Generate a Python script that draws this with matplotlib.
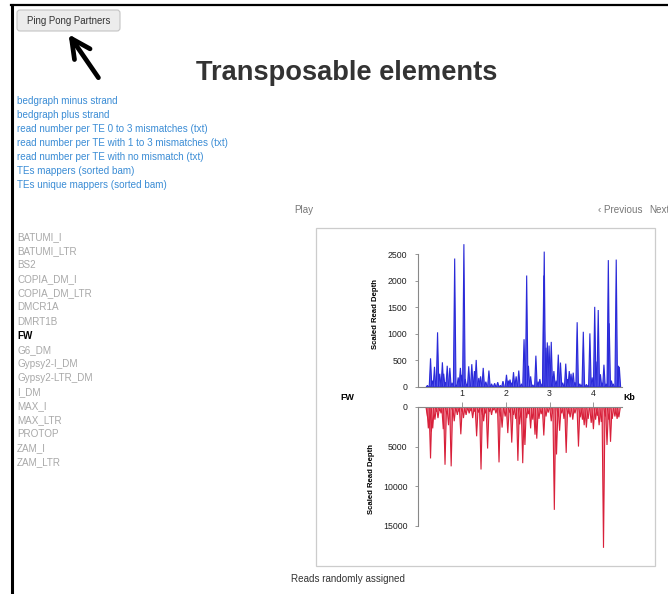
import numpy as np
import matplotlib.pyplot as plt
from matplotlib.patches import FancyBboxPatch, Rectangle

# page texts
links = ["bedgraph minus strand", "bedgraph plus strand",
         "read number per TE 0 to 3 mismatches (txt)",
         "read number per TE with 1 to 3 mismatches (txt)",
         "read number per TE with no mismatch (txt)",
         "TEs mappers (sorted bam)", "TEs unique mappers (sorted bam)"]
te_names = ["BATUMI_I", "BATUMI_LTR", "BS2", "COPIA_DM_I", "COPIA_DM_LTR",
            "DMCR1A", "DMRT1B", "FW", "G6_DM", "Gypsy2-I_DM", "Gypsy2-LTR_DM",
            "I_DM", "MAX_I", "MAX_LTR", "PROTOP", "ZAM_I", "ZAM_LTR"]
selected = "FW"

# plus strand peaks (kb, scaled read depth)
plus_kb = [0.22, 0.29, 0.33, 0.38, 0.45, 0.50, 0.56, 0.59, 0.63, 0.67, 0.73, 0.78,
           0.84, 0.88, 0.92, 0.97, 1.00, 1.05, 1.08, 1.12, 1.16, 1.23, 1.29, 1.33,
           1.39, 1.43, 1.49, 1.55, 1.62, 1.68, 1.75, 1.82, 1.88, 1.94, 2.02, 2.06,
           2.10, 2.14, 2.18, 2.24, 2.30, 2.36, 2.42, 2.48, 2.52, 2.57, 2.62, 2.69,
           2.74, 2.78, 2.83, 2.87, 2.88, 2.92, 2.95, 2.99, 3.04, 3.07, 3.10, 3.15,
           3.20, 3.25, 3.30, 3.37, 3.41, 3.45, 3.49, 3.54, 3.58, 3.63, 3.69, 3.73,
           3.77, 3.84, 3.88, 3.92, 3.97, 4.03, 4.06, 4.11, 4.16, 4.20, 4.24, 4.29,
           4.34, 4.36, 4.41, 4.45, 4.52, 4.57, 4.59]
plus_depth = [30, 540, 120, 380, 1030, 250, 465, 250, 90, 400, 360, 80,
              2420, 40, 180, 360, 230, 2690, 150, 60, 390, 430, 300, 510,
              170, 200, 360, 100, 310, 60, 70, 90, 30, 110, 230, 120,
              140, 80, 280, 200, 310, 60, 900, 2100, 400, 200, 40, 590,
              100, 150, 60, 2100, 2550, 740, 840, 780, 850, 200, 300, 120,
              610, 460, 80, 440, 150, 300, 250, 270, 90, 1220, 60, 40,
              1040, 50, 30, 1010, 180, 1510, 480, 1450, 240, 80, 420, 60,
              2390, 1200, 120, 60, 2400, 400, 380]

# minus strand peaks (kb, scaled read depth)
minus_kb = [0.22, 0.24, 0.29, 0.31, 0.34, 0.39, 0.43, 0.46, 0.50, 0.53, 0.58, 0.62,
            0.66, 0.70, 0.76, 0.80, 0.83, 0.87, 0.90, 0.94, 0.98, 1.01, 1.04, 1.10,
            1.14, 1.17, 1.21, 1.25, 1.30, 1.34, 1.38, 1.44, 1.47, 1.50, 1.54, 1.59,
            1.63, 1.68, 1.73, 1.78, 1.85, 1.88, 1.92, 1.99, 2.05, 2.09, 2.14, 2.18,
            2.23, 2.28, 2.32, 2.35, 2.39, 2.44, 2.48, 2.52, 2.57, 2.62, 2.67, 2.71,
            2.76, 2.81, 2.87, 2.92, 2.97, 3.04, 3.08, 3.11, 3.16, 3.20, 3.23, 3.28,
            3.33, 3.38, 3.42, 3.47, 3.53, 3.58, 3.66, 3.70, 3.75, 3.79, 3.84, 3.88,
            3.95, 4.00, 4.05, 4.09, 4.13, 4.18, 4.23, 4.27, 4.31, 4.35, 4.39, 4.43,
            4.49, 4.54, 4.58]
minus_depth = [1200, 2700, 6500, 3100, 2700, 1600, 600, 1400, 500, 800, 2800, 7300,
               900, 2300, 7500, 600, 1800, 400, 1000, 600, 3450, 600, 1400, 1000,
               400, 800, 500, 1400, 600, 3700, 700, 7900, 1000, 1800, 800, 5250,
               600, 1000, 400, 800, 7000, 1200, 2600, 1200, 3300, 700, 4500, 1000,
               1500, 6800, 2200, 1300, 7100, 4800, 1400, 900, 2700, 1600, 3500, 4000,
               1500, 900, 3600, 1200, 700, 1800, 900, 13000, 6000, 1200, 3000, 800,
               1500, 5800, 900, 1300, 1600, 800, 5000, 1300, 1600, 2300, 2600, 1500,
               2000, 2800, 1600, 1100, 2300, 1900, 17800, 1200, 4800, 1600, 4400, 1500,
               1200, 1500, 1300]

kb_ticks = [1, 2, 3, 4]
plus_yticks = [0, 500, 1000, 1500, 2000, 2500]
minus_yticks = [0, 5000, 10000, 15000]

W, H = 668, 594
plt.rcParams['font.family'] = ['Liberation Sans', 'DejaVu Sans']
fig = plt.figure(figsize=(W / 100, H / 100), dpi=100)


def px_axes(left, top, right, bottom):
    return fig.add_axes([left / W, 1 - bottom / H, (right - left) / W, (bottom - top) / H])


# page canvas in pixel coords
bg = px_axes(0, 0, W, H)
bg.set_xlim(0, W)
bg.set_ylim(H, 0)
bg.axis('off')

bg.plot([11, W], [5, 5], color='black', lw=1.6)
bg.plot([11.5, 11.5], [5, H], color='black', lw=2.2)

btn = FancyBboxPatch((17, 10), 103, 21, boxstyle='round,pad=0,rounding_size=3',
                     fc='#ececec', ec='#c4c4c4', lw=0.8)
bg.add_patch(btn)
bg.text(68.5, 20.5, "Ping Pong Partners", fontsize=6.9, color='#333333',
        ha='center', va='center')
bg.annotate("", xy=(67, 32), xytext=(100, 80),
            arrowprops=dict(arrowstyle='->', lw=3.4, color='black', mutation_scale=34))

bg.text(347, 73, "Transposable elements", fontsize=19.6, fontweight='bold',
        color='#333333', ha='center', va='center')

for i, name in enumerate(links):
    bg.text(17, 101 + i * 14, name, fontsize=7.1, color='#3a8cd5', va='center')

bg.text(294, 210, "Play", fontsize=7.1, color='#777777', va='center')
bg.text(598, 210, "\u2039 Previous", fontsize=7.1, color='#777777', va='center')
bg.text(649, 210, "Next", fontsize=7.1, color='#777777', va='center')

for i, name in enumerate(te_names):
    if name == selected:
        bg.text(17, 237 + i * 14.1, name, fontsize=7.1, color='black',
                fontweight='bold', va='center')
    else:
        bg.text(17, 237 + i * 14.1, name, fontsize=7.1, color='#a8a8a8', va='center')

bg.add_patch(Rectangle((316, 228), 339, 338, fc='white', ec='#cccccc', lw=0.9))
bg.text(291, 579, "Reads randomly assigned", fontsize=7.1, color='#333333', va='center')
bg.text(340, 397, "FW", fontsize=6.4, fontweight='bold', va='center')
bg.text(623, 397, "Kb", fontsize=6.4, fontweight='bold', va='center')

kb_px = 43.9
x0 = 417.8
xmax = 4.65

# plus strand panel
ax1 = px_axes(x0, 241, x0 + xmax * kb_px, 387)
ax1.set_xlim(0, xmax)
ax1.set_ylim(0, 2750)
w = 0.03
for x, h in zip(plus_kb, plus_depth):
    ax1.fill([x - w, x, x + w], [0, h, 0], fc='#5c5cee', ec='#2a2ad8', lw=0.8)
for s in ['top', 'right']:
    ax1.spines[s].set_visible(False)
ax1.spines['left'].set_bounds(0, 2500)
ax1.spines['left'].set_color('#888888')
ax1.spines['bottom'].set_color('#888888')
ax1.spines['left'].set_linewidth(0.8)
ax1.spines['bottom'].set_linewidth(0.8)
ax1.set_yticks(plus_yticks)
ax1.set_xticks([])
ax1.tick_params(axis='y', length=2.5, width=0.6, color='#888888', pad=5,
                labelsize=6.3, labelcolor='#222222')
ax1.set_ylabel("Scaled Read Depth", fontsize=5.6, fontweight='bold', labelpad=6)
ax1.patch.set_alpha(0)

# minus strand panel
ax2 = px_axes(x0, 407, x0 + xmax * kb_px, 551)
ax2.set_xlim(0, xmax)
ax2.set_ylim(18200, 0)
w2 = 0.034
for x, h in zip(minus_kb, minus_depth):
    ax2.fill([x - w2, x, x + w2], [0, h, 0], fc='#f08696', ec='#d8203a', lw=0.8)
for s in ['bottom', 'right']:
    ax2.spines[s].set_visible(False)
ax2.spines['left'].set_bounds(0, 15000)
ax2.spines['left'].set_color('#888888')
ax2.spines['top'].set_color('#888888')
ax2.spines['left'].set_linewidth(0.8)
ax2.spines['top'].set_linewidth(0.8)
ax2.set_yticks(minus_yticks)
ax2.set_xticks(kb_ticks)
ax2.xaxis.tick_top()
ax2.tick_params(axis='x', length=3.5, width=0.6, color='#888888', pad=3,
                labelsize=6.3, labelcolor='#222222')
ax2.tick_params(axis='y', length=2.5, width=0.6, color='#888888', pad=5,
                labelsize=6.3, labelcolor='#222222')
ax2.set_ylabel("Scaled Read Depth", fontsize=5.6, fontweight='bold', labelpad=6)
ax2.patch.set_alpha(0)

fig.savefig('out.png', dpi=100)
